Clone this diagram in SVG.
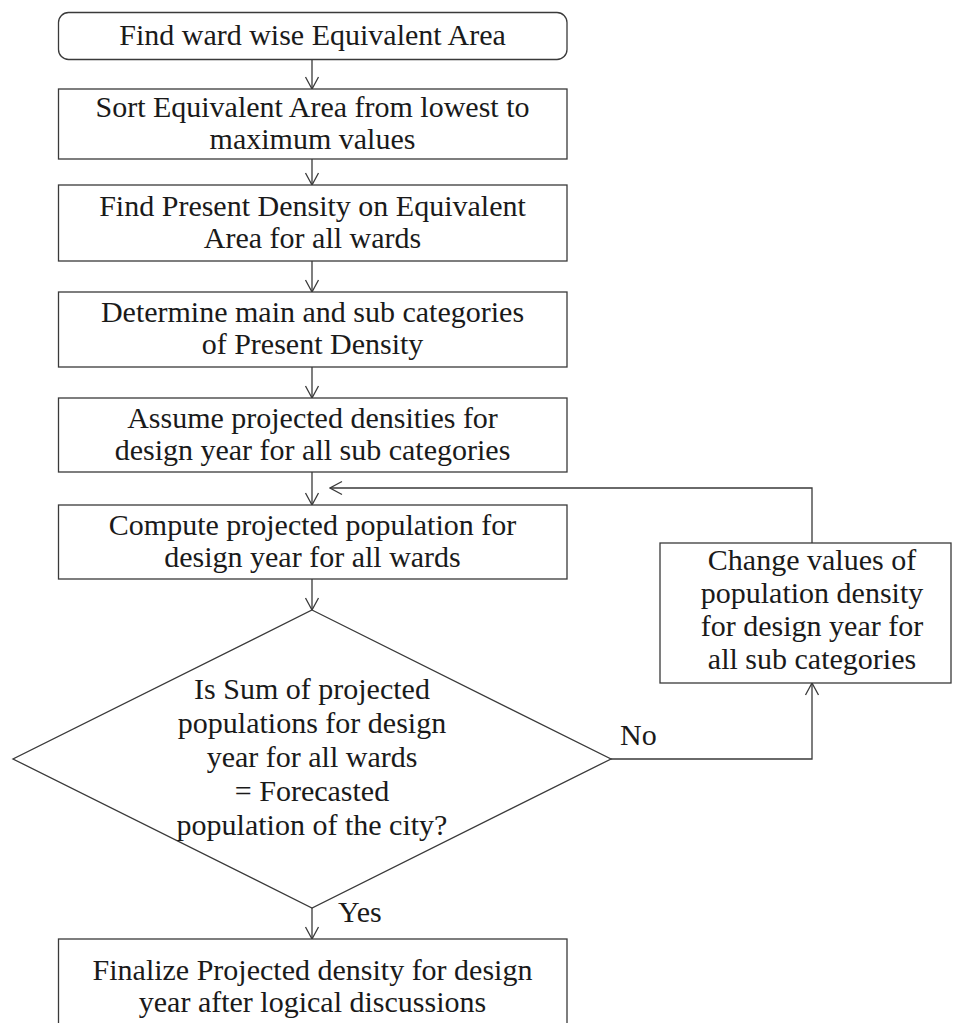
<svg xmlns="http://www.w3.org/2000/svg" width="953" height="1023" viewBox="0 0 953 1023">
<style>
.box{fill:#fff;stroke:#3a3a3a;stroke-width:1.3}
.t{font-family:"Liberation Serif","Times New Roman",serif;font-size:30px;fill:#1a1a1a;text-anchor:middle}
.lbl{font-family:"Liberation Serif","Times New Roman",serif;font-size:30px;fill:#1a1a1a}
.c{fill:none;stroke:#3a3a3a;stroke-width:1.3}
</style>
<defs>
<marker id="arr" viewBox="-13 -8 14 16" refX="0" refY="0" markerWidth="14" markerHeight="16" markerUnits="userSpaceOnUse" orient="auto">
<path d="M-12,-6.5 L0,0 L-12,6.5" fill="none" stroke="#3a3a3a" stroke-width="1.3"/>
</marker>
</defs>
<rect width="953" height="1023" fill="#fff"/>
<g id="connectors">
<path class="c" d="M312,59 V89" marker-end="url(#arr)"/>
<path class="c" d="M312,159 V185" marker-end="url(#arr)"/>
<path class="c" d="M312,261 V292" marker-end="url(#arr)"/>
<path class="c" d="M312,367 V398" marker-end="url(#arr)"/>
<path class="c" d="M312,472 V505" marker-end="url(#arr)"/>
<path class="c" d="M312,579 V610" marker-end="url(#arr)"/>
<path class="c" d="M312,908 V939" marker-end="url(#arr)"/>
<path class="c" d="M812,543 V488 H330" marker-end="url(#arr)"/>
<path class="c" d="M611,759 H812 V683" marker-end="url(#arr)"/>
<text class="lbl" x="620" y="745">No</text>
<text class="lbl" x="338" y="922">Yes</text>
</g>
<g id="n1">
<rect class="box" x="58.5" y="12.5" width="508.5" height="47" rx="10" ry="10"/>
<text class="t" x="312.5" y="45">Find ward wise Equivalent Area</text>
</g>
<g id="n2">
<rect class="box" x="58.5" y="89" width="508.5" height="70"/>
<text class="t" x="312.5" y="117">Sort Equivalent Area from lowest to</text>
<text class="t" x="312.5" y="149">maximum values</text>
</g>
<g id="n3">
<rect class="box" x="58.5" y="185" width="508.5" height="76"/>
<text class="t" x="312.5" y="215.5">Find Present Density on Equivalent</text>
<text class="t" x="312.5" y="247.5">Area for all wards</text>
</g>
<g id="n4">
<rect class="box" x="58.5" y="292" width="508.5" height="75"/>
<text class="t" x="312.5" y="322">Determine main and sub categories</text>
<text class="t" x="312.5" y="354">of Present Density</text>
</g>
<g id="n5">
<rect class="box" x="58.5" y="398" width="508.5" height="74"/>
<text class="t" x="312.5" y="427.5">Assume projected densities for</text>
<text class="t" x="312.5" y="459.5">design year for all sub categories</text>
</g>
<g id="n6">
<rect class="box" x="58.5" y="505" width="508.5" height="74"/>
<text class="t" x="312.5" y="534.5">Compute projected population  for</text>
<text class="t" x="312.5" y="566.5">design year for all wards</text>
</g>
<g id="n7">
<polygon class="box" points="312,610 611,759 312,908 13,759"/>
<text class="t" x="312" y="699">Is Sum of projected</text>
<text class="t" x="312" y="733">populations for design</text>
<text class="t" x="312" y="767">year for all wards</text>
<text class="t" x="312" y="801">= Forecasted</text>
<text class="t" x="312" y="835">population of the city?</text>
</g>
<g id="n8">
<rect class="box" x="660" y="543" width="291" height="140"/>
<text class="t" x="812" y="570">Change values of</text>
<text class="t" x="812" y="603">population density</text>
<text class="t" x="812" y="636">for design year for</text>
<text class="t" x="812" y="669">all sub categories</text>
</g>
<g id="n9">
<rect class="box" x="58.5" y="939" width="508.5" height="100"/>
<text class="t" x="312.5" y="980">Finalize Projected density for design</text>
<text class="t" x="312.5" y="1012">year after logical discussions</text>
</g>
</svg>
